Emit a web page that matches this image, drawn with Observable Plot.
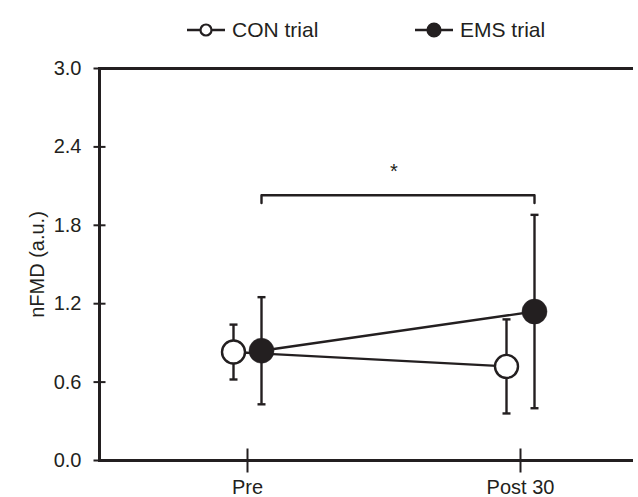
<!DOCTYPE html>
<html>
<head>
<meta charset="utf-8">
<script src="https://cdn.jsdelivr.net/npm/d3@7"></script>
<script src="https://cdn.jsdelivr.net/npm/@observablehq/plot@0.6"></script>
<style>
  html, body { margin: 0; padding: 0; background: #fff; }
  #wrap { width: 638px; position: relative; font-family: "Liberation Sans", Arial, sans-serif; color: #231f20; }
  #legend { position: relative; width: 638px; height: 50px; }
  .lg-text { position: absolute; top: 18px; font-size: 21px; line-height: 24px; white-space: nowrap; }
  svg { display: block; }
</style>
</head>
<body>
<div id="wrap">
  <div id="legend"></div>
  <div id="chart"></div>
</div>
<script>
// ---- data ----
const phases = ["Pre", "Post 30"];
const conMean = [0.83, 0.72];
const conSD = [0.21, 0.36];
const emsMean = [0.84, 1.14];
const emsSD = [0.41, 0.74];
const yTicks = [0, 0.6, 1.2, 1.8, 2.4, 3.0];
const seriesNames = ["CON trial", "EMS trial"];
const sigLabel = "*";
const sigBracketY = 2.03;
const sigBracketEndY = 1.97;
const sigLabelY = 2.21;

const ink = "#231f20";
const sw = 2.4;

// ---- derived tables ----
const con = phases.map((p, i) => ({i, p, m: conMean[i], lo: conMean[i] - conSD[i], hi: conMean[i] + conSD[i]}));
const ems = phases.map((p, i) => ({i, p, m: emsMean[i], lo: emsMean[i] - emsSD[i], hi: emsMean[i] + emsSD[i]}));
const bracket = [
  {x: 0, y: sigBracketEndY}, {x: 0, y: sigBracketY},
  {x: phases.length - 1, y: sigBracketY}, {x: phases.length - 1, y: sigBracketEndY}
];

// custom line symbols for caps and crossing ticks
const hbar = {draw(ctx, size) { const r = Math.sqrt(size / Math.PI); ctx.moveTo(-r, 0); ctx.lineTo(r, 0); }};
const vbar = {draw(ctx, size) { const r = Math.sqrt(size / Math.PI); ctx.moveTo(0, -r); ctx.lineTo(0, r); }};

const offCON = -14, offEMS = 14;

function errorMarks(data, dx) {
  return [
    Plot.ruleX(data, {x: "i", y1: "lo", y2: "hi", dx, stroke: ink, strokeWidth: sw}),
    Plot.dot(data, {x: "i", y: "hi", dx, symbol: hbar, r: 4, stroke: ink, strokeWidth: sw, fill: "none"}),
    Plot.dot(data, {x: "i", y: "lo", dx, symbol: hbar, r: 4, stroke: ink, strokeWidth: sw, fill: "none"})
  ];
}

const chart = Plot.plot({
  width: 638,
  height: 447,
  marginTop: 18,
  marginBottom: 37,
  marginLeft: 99,
  marginRight: 5,
  style: {fontFamily: "'Liberation Sans', Arial, sans-serif", fontSize: "20px", color: ink, background: "#fff"},
  x: {type: "linear", domain: [0, 1], range: [247, 520]},
  y: {domain: [0, 3]},
  marks: [
    // axes labels
    Plot.axisX({ticks: [0, 1], tickFormat: i => phases[i], tickSize: 0, tickPadding: 19, label: null, fontSize: 20}),
    Plot.axisY({ticks: yTicks, tickFormat: d3.format(".1f"), tickSize: 0, tickPadding: 18, label: "nFMD (a.u.)", labelAnchor: "center", labelArrow: "none", labelOffset: 70, fontSize: 20}),
    // frame lines
    Plot.ruleY([0, 3], {stroke: ink, strokeWidth: sw + 0.6}),
    Plot.frame({anchor: "left", stroke: ink, strokeWidth: sw + 0.6}),
    // crossing ticks
    Plot.dot(yTicks, {y: d => d, frameAnchor: "left", symbol: hbar, r: 6, stroke: ink, strokeWidth: 2, fill: "none"}),
    Plot.dot([0, 1], {x: d => d, y: () => 0, symbol: vbar, r: 12, stroke: ink, strokeWidth: 2, fill: "none"}),
    // significance bracket
    Plot.line(bracket, {x: "x", y: "y", dx: offEMS, stroke: ink, strokeWidth: sw, strokeLinejoin: "round"}),
    Plot.text([sigLabel], {x: () => 0.5, y: () => sigLabelY, text: d => d, dx: offEMS - 4, fontSize: 20, fill: ink}),
    // lines
    Plot.line(con, {x: "i", y: "m", dx: offCON, stroke: ink, strokeWidth: sw}),
    Plot.line(ems, {x: "i", y: "m", dx: offEMS, stroke: ink, strokeWidth: sw}),
    // error bars
    ...errorMarks(con, offCON),
    ...errorMarks(ems, offEMS),
    // points
    Plot.dot(con, {x: "i", y: "m", dx: offCON, r: 11.5, fill: "#fff", stroke: ink, strokeWidth: sw}),
    Plot.dot(ems, {x: "i", y: "m", dx: offEMS, r: 12.5, fill: ink, stroke: ink, strokeWidth: 0.5})
  ]
});
document.getElementById("chart").appendChild(chart);

// ---- legend ----
const legend = d3.select("#legend");
const items = [
  {name: seriesNames[0], fill: "#fff", left: 187},
  {name: seriesNames[1], fill: ink, left: 415}
];
for (const it of items) {
  const svg = legend.append("svg")
    .attr("width", 40).attr("height", 20)
    .style("position", "absolute").style("left", it.left + "px").style("top", "20px");
  svg.append("line").attr("x1", 0).attr("x2", 38).attr("y1", 10).attr("y2", 10)
    .attr("stroke", ink).attr("stroke-width", 2.5);
  svg.append("circle").attr("cx", 19).attr("cy", 10).attr("r", it.fill === ink ? 6.5 : 5.5)
    .attr("fill", it.fill).attr("stroke", ink).attr("stroke-width", 2.2);
  legend.append("div").attr("class", "lg-text")
    .style("left", (it.left + 45) + "px").text(it.name);
}
</script>
</body>
</html>
